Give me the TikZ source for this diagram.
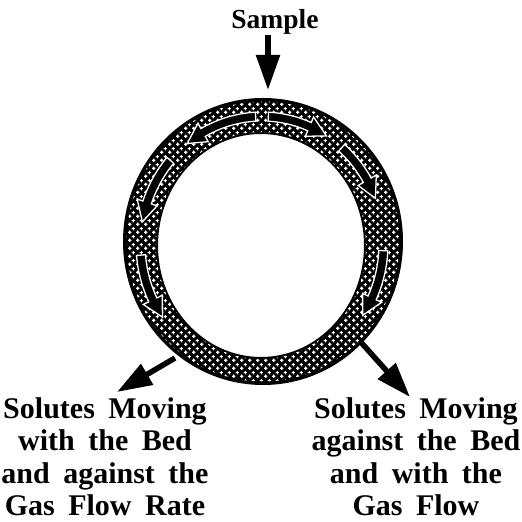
\documentclass[tikz,border=0pt]{standalone}
\usepackage{fontspec}
\setmainfont{Liberation Serif}
\usetikzlibrary{arrows.meta,patterns}

\pgfdeclarepatternformonly{plusgrid}{\pgfqpoint{0pt}{0pt}}{\pgfqpoint{8pt}{8pt}}{\pgfqpoint{8pt}{8pt}}{%
  \pgfpathrectangle{\pgfqpoint{0.2pt}{1.4pt}}{\pgfqpoint{3.6pt}{1.2pt}}%
  \pgfpathrectangle{\pgfqpoint{1.4pt}{0.2pt}}{\pgfqpoint{1.2pt}{3.6pt}}%
  \pgfpathrectangle{\pgfqpoint{4.2pt}{5.4pt}}{\pgfqpoint{3.6pt}{1.2pt}}%
  \pgfpathrectangle{\pgfqpoint{5.4pt}{4.2pt}}{\pgfqpoint{1.2pt}{3.6pt}}%
  \pgfusepath{fill}}

\newcommand\widespace{\spaceskip=0.45em\relax}

\newcommand\ringarrow[2]{%
  \pgfmathsetmacro\headang{#2-9*sign(#2-#1)}%
  \filldraw[flowarrow] plot[domain=#1:\headang,samples=10] (\x:117 and 123)
    -- (\headang:111 and 117) -- (#2:121.5 and 127.5) -- (\headang:132 and 138)
    -- plot[domain=\headang:#1,samples=10] (\x:126 and 132) -- cycle;}

\begin{document}
\begin{tikzpicture}[x=1pt,y=1pt,
    bigarrow/.style={line width=5.5pt,-{Triangle[length=35pt,width=23pt]}},
    flowarrow/.style={fill=black,draw=white,line width=1.3pt},
    bedtext/.style={align=center,inner sep=0pt,font=\bfseries\fontsize{30}{32.5}\selectfont\widespace}]
		\useasboundingbox (0,0) rectangle (522,522);
		
		\node[anchor=base,inner sep=0pt,font=\bfseries\fontsize{27.5}{30}\selectfont] (sample) at (275,493) {Sample};
		\node[bedtext,anchor=north] (withbed) at (105,125) {Solutes Moving\\with the Bed\\and against the\\Gas Flow Rate};
		\node[bedtext,anchor=north] (againstbed) at (416,125) {Solutes Moving\\against the Bed\\and with the\\Gas Flow};
		
		\coordinate (ringtop) at (268,432);
		\coordinate (leftfoot) at (175,164);
		\coordinate (lefttip) at (117,130);
		\coordinate (rightfoot) at (358,183);
		\coordinate (righttip) at (410,125);
		
		\draw[bigarrow] (sample.south -| ringtop) -- (ringtop);
		\draw[bigarrow] (leftfoot) -- (lefttip);
		\draw[bigarrow] (rightfoot) -- (righttip);
		
		\fill[black,even odd rule] (263,280.5) ellipse [x radius=140,y radius=143.5] (261,276.5) ellipse [x radius=103,y radius=111.5];
		\fill[pattern=plusgrid,pattern color=white,even odd rule] (263,280.5) ellipse [x radius=136.5,y radius=140] (261,276.5) ellipse [x radius=105,y radius=113.5];
		
		\begin{scope}[shift={(262,278)}]
			\ringarrow{93}{128}
			\ringarrow{87}{58}
			\ringarrow{49}{21}
			\ringarrow{139}{170}
			\ringarrow{185}{215}
			\ringarrow{-3}{-34}
		\end{scope}
\end{tikzpicture}
\end{document}
